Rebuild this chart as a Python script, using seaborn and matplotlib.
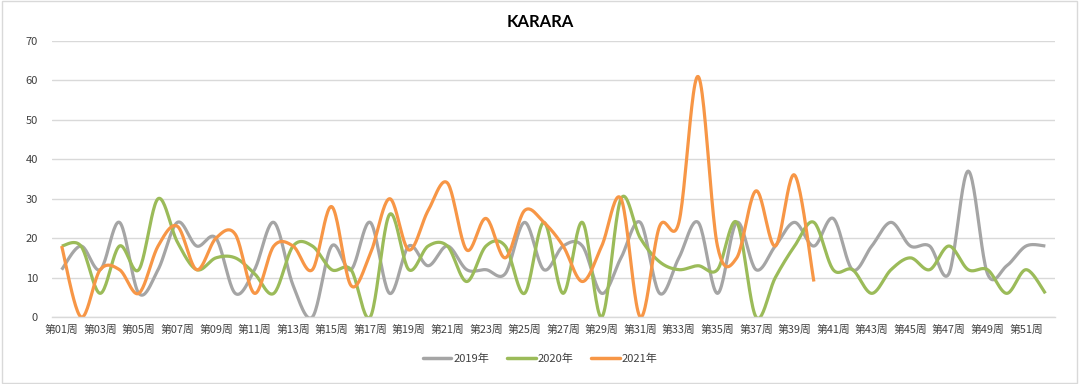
import numpy as np
import pandas as pd
import matplotlib
matplotlib.use("Agg")
import matplotlib.pyplot as plt
import seaborn as sns
from matplotlib.lines import Line2D

weeks = [f"第{i:02d}周" for i in range(1, 53)]
series_names = ["2019年", "2020年", "2021年"]
y2019 = [12, 18, 12, 24, 6, 12, 24, 18, 20, 6, 12, 24, 8, 0, 18, 12, 24, 6, 18, 13,
         18, 12, 12, 11, 24, 12, 18, 18, 6, 15, 24, 6, 15, 24, 6, 24, 12, 18, 24, 18,
         25, 12, 18, 24, 18, 18, 11, 37, 11, 13, 18, 18]
y2020 = [18, 18, 6, 18, 12, 30, 19, 12, 15, 15, 11, 6, 18, 18, 12, 12, 0, 26, 12, 18,
         18, 9, 18, 18, 6, 24, 6, 24, 0, 30, 20, 14, 12, 13, 12, 24, 0, 10, 18, 24,
         12, 12, 6, 12, 15, 12, 18, 12, 12, 6, 12, 6]
y2021 = [18, 0, 12, 12, 6, 18, 23, 12, 20, 21, 6, 18, 18, 12, 28, 8, 16, 30, 17, 27,
         34, 17, 25, 15, 27, 24, 18, 9, 18, 30, 0, 23, 24, 61, 18, 15, 32, 18, 36, 9]
colors = ["#A5A5A5", "#9BBB59", "#F79646"]
yticks = [0, 10, 20, 30, 40, 50, 60, 70]


def smooth(vals, n=24):
    """Excel-like smoothed line: cubic Bezier with Catmull-Rom control points."""
    x = np.arange(1, len(vals) + 1, dtype=float)
    y = np.asarray(vals, dtype=float)
    xs, ys = [], []
    m = len(x)
    for i in range(m - 1):
        p0 = (x[max(i - 1, 0)], y[max(i - 1, 0)])
        p1 = (x[i], y[i])
        p2 = (x[i + 1], y[i + 1])
        p3 = (x[min(i + 2, m - 1)], y[min(i + 2, m - 1)])
        b1 = (p1[0] + (p2[0] - p0[0]) / 6, p1[1] + (p2[1] - p0[1]) / 6)
        b2 = (p2[0] - (p3[0] - p1[0]) / 6, p2[1] - (p3[1] - p1[1]) / 6)
        t = np.linspace(0, 1, n, endpoint=(i == m - 2))
        c0 = (1 - t) ** 3
        c1 = 3 * (1 - t) ** 2 * t
        c2 = 3 * (1 - t) * t ** 2
        c3 = t ** 3
        xs.append(c0 * p1[0] + c1 * b1[0] + c2 * b2[0] + c3 * p2[0])
        ys.append(c0 * p1[1] + c1 * b1[1] + c2 * b2[1] + c3 * p2[1])
    return np.concatenate(xs), np.concatenate(ys)


frames = []
for name, vals in zip(series_names, [y2019, y2020, y2021]):
    sx, sy = smooth(vals)
    frames.append(pd.DataFrame({"x": sx, "y": sy, "series": name}))
df = pd.concat(frames, ignore_index=True)

sns.set_theme(style="white")
plt.rcParams["font.family"] = ["Noto Sans CJK SC", "DejaVu Sans"]

fig = plt.figure(figsize=(10.8, 3.84), dpi=100)
ax = fig.add_axes([52 / 1080, 1 - 317 / 384, (1055 - 52) / 1080, (317 - 41) / 384])

for name, col in zip(series_names, colors):
    sub = df[df["series"] == name]
    sns.lineplot(data=sub, x="x", y="y", color=col, linewidth=2.3, sort=False,
                 estimator=None, ax=ax, legend=False, solid_capstyle="butt")

ax.set_xlim(0.5, 52.5)
ax.set_ylim(0, 70)
ax.set_yticks(yticks)
ax.set_yticklabels([str(v) for v in yticks])
ax.yaxis.grid(True, color="#D9D9D9", linewidth=1.0)
ax.set_axisbelow(True)
ax.set_xticks(np.arange(1, 53, 2))
ax.set_xticklabels(weeks[::2])
ax.set_xticks(np.arange(0.5, 53, 1), minor=True)
ax.tick_params(axis="x", which="major", length=0, pad=6, labelsize=7.8, colors="#404040")
ax.tick_params(axis="x", which="minor", length=4, width=0.8, color="#D9D9D9", direction="out")
ax.tick_params(axis="y", length=0, pad=10, labelsize=8, colors="#404040")
ax.set_xlabel("")
ax.set_ylabel("")
for s in ["top", "right", "left"]:
    ax.spines[s].set_visible(False)
ax.spines["bottom"].set_color("#D9D9D9")
ax.spines["bottom"].set_linewidth(1.0)

fig.text(0.5, 1 - 22 / 384, "KARARA", ha="center", va="center", fontsize=12,
         fontweight="bold", color="#000000", family=["Lato", "DejaVu Sans"])

handles = [Line2D([0], [0], color=c, linewidth=2.5) for c in colors]
fig.legend(handles, series_names, loc="center", bbox_to_anchor=(0.5, 1 - 359 / 384),
           ncol=3, frameon=False, fontsize=8, handlelength=2.6, handletextpad=0.15,
           columnspacing=1.6, labelcolor="#404040")

fig.patches.append(plt.Rectangle((0.002, 0.003), 0.995, 0.994, transform=fig.transFigure,
                                 fill=False, edgecolor="#D9D9D9", linewidth=1.0))

fig.savefig("out.png", dpi=100, facecolor="white")
